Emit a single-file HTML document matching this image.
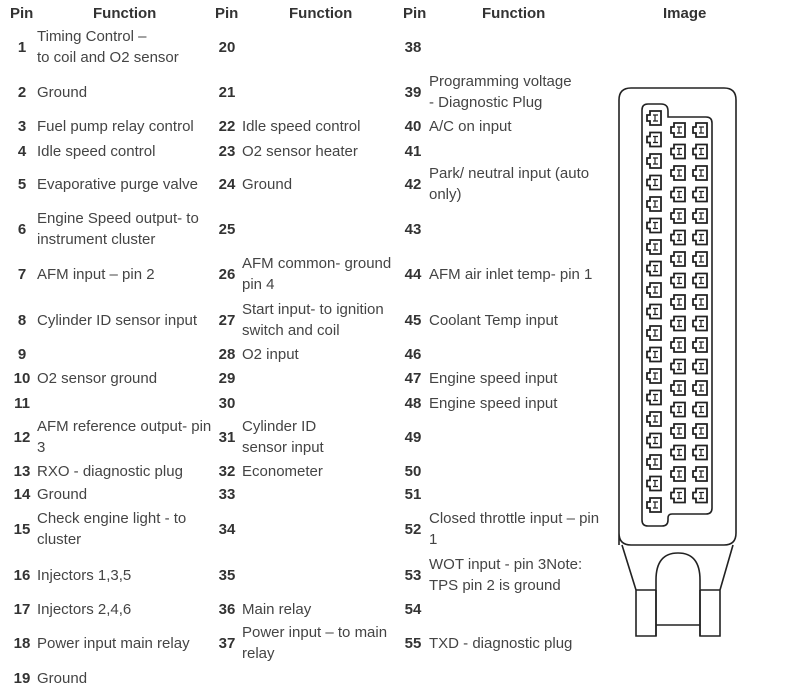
<!DOCTYPE html>
<html><head><meta charset="utf-8">
<style>
body{margin:0;background:#fff;width:789px;height:699px;overflow:hidden;position:relative;font-family:"Liberation Sans",Arial,sans-serif;color:#444;}
.h{position:absolute;top:5px;font-weight:bold;font-size:15px;color:#333;}
.p{position:absolute;font-weight:bold;font-size:15px;color:#333;width:20px;text-align:center;}
.f{position:absolute;font-size:15px;line-height:21px;white-space:nowrap;}
svg{position:absolute;left:0;top:0;}
</style></head><body>
<div class="h" style="left:10px">Pin</div>
<div class="h" style="left:93px">Function</div>
<div class="h" style="left:215px">Pin</div>
<div class="h" style="left:289px">Function</div>
<div class="h" style="left:403px">Pin</div>
<div class="h" style="left:482px">Function</div>
<div class="h" style="left:663px">Image</div>
<div id="t"></div>
<svg width="789" height="699" id="s">
<g fill="none" stroke="#222" stroke-width="1.6">
<path d="M619,545 L619,100 Q619,88 631,88 L724,88 Q736,88 736,100 L736,533 Q736,545 724,545 L631,545 Q619,545 619,533"/>
<path d="M622,545 L636,590 L636,636 L656,636 L656,590"/>
<path d="M733,545 L720,590 L720,636 L700,636 L700,590"/>
<path d="M656,636 L656,595 L656,580 Q656,553 678,553 Q700,553 700,580 L700,636"/>
<path d="M636,590 L656,590 M700,590 L720,590 M656,625 L700,625"/>
<path d="M648,104 L661,104 Q668,104 668,111 L668,117 L706,117 Q712,117 712,123 L712,508 Q712,514 706,514 L672,514 Q668,514 668,518 L668,520 Q668,526 662,526 L648,526 Q642,526 642,520 L642,110 Q642,104 648,104Z"/>
</g>
<g id="pins" fill="none" stroke="#222" stroke-width="1.8"></g>
</svg>
<script>
var rows=[
[47,["Timing Control –","to coil and O2 sensor"],[],[]],
[92,["Ground"],[],["Programming voltage","- Diagnostic Plug"]],
[126,["Fuel pump relay control"],["Idle speed control"],["A/C on input"]],
[151,["Idle speed control"],["O2 sensor heater"],[]],
[184,["Evaporative purge valve"],["Ground"],["Park/ neutral input (auto","only)"]],
[229,["Engine Speed output- to","instrument cluster"],[],[]],
[274,["AFM input – pin 2"],["AFM common- ground","pin 4"],["AFM air inlet temp- pin 1"]],
[320,["Cylinder ID sensor input"],["Start input- to ignition","switch and coil"],["Coolant Temp input"]],
[354,[],["O2 input"],[]],
[378,["O2 sensor ground"],[],["Engine speed input"]],
[403,[],[],["Engine speed input"]],
[437,["AFM reference output- pin","3"],["Cylinder ID","sensor input"],[]],
[471,["RXO - diagnostic plug"],["Econometer"],[]],
[494,["Ground"],[],[]],
[529,["Check engine light - to","cluster"],[],["Closed throttle input – pin","1"]],
[575,["Injectors 1,3,5"],[],["WOT input - pin 3Note:","TPS pin 2 is ground"]],
[609,["Injectors 2,4,6"],["Main relay"],[]],
[643,["Power input main relay"],["Power input – to main","relay"],["TXD - diagnostic plug"]],
[678,["Ground"],null,null]];
var h="";
var px=[12,217,403],fx=[37,242,429];
rows.forEach(function(r,i){
 var y=r[0];
 for(var c=0;c<3;c++){
  var f=r[c+1]; if(f===null) continue;
  var n=[1,20,38][c]+i;
  h+='<div class="p" style="left:'+px[c]+'px;top:'+(y-8)+'px">'+n+'</div>';
  if(f.length) h+='<div class="f" style="left:'+fx[c]+'px;top:'+(y-f.length*10.5)+'px">'+f.join('<br>')+'</div>';
 }
});
document.getElementById('t').innerHTML=h;
var g="";
function pin(x,y){g+='<path d="M'+(x+3)+','+y+' h11 v14 h-11 v-4 h-3 v-6 h3 z"/><path d="M'+(x+6)+','+(y+4)+' h5 M'+(x+6)+','+(y+10)+' h5 M'+(x+8)+','+(y+4)+' v6" stroke-width="1.2"/>';}
for(var i=0;i<19;i++)pin(647,111+i*21.5);
for(var i=0;i<18;i++){pin(671,123+i*21.5);pin(693,123+i*21.5);}
document.getElementById('pins').innerHTML=g;
</script>
</body></html>
